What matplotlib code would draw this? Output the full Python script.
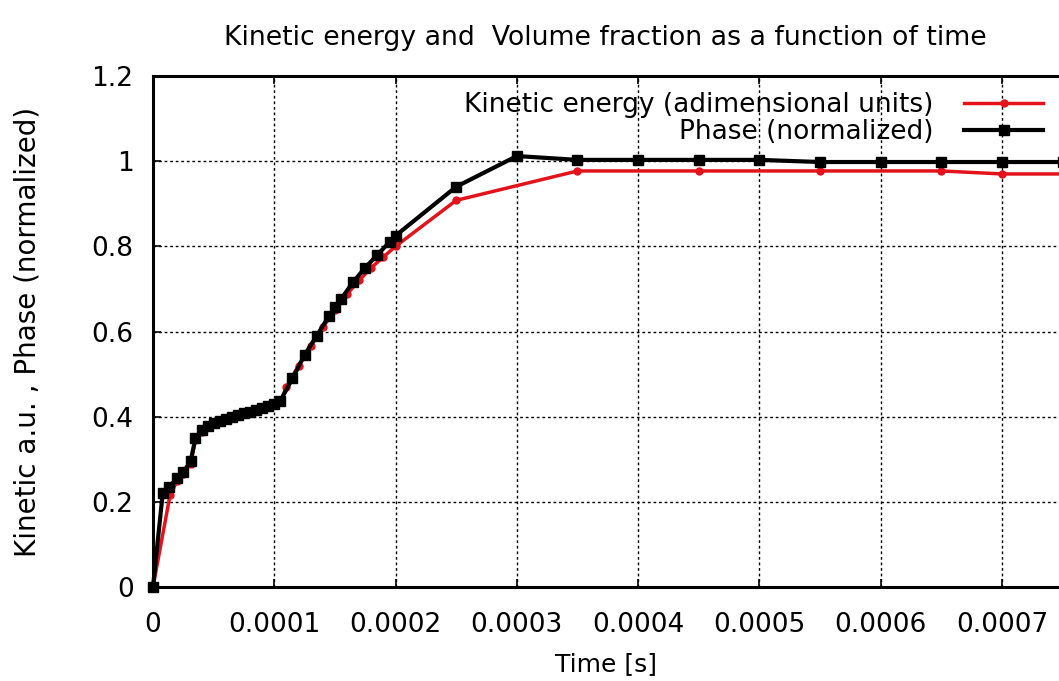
import matplotlib
matplotlib.use('Agg')
import matplotlib.pyplot as plt

# Phase (normalized) - black squares
t_phase = [0, 0.000008, 0.000013, 0.00002, 0.000025, 0.000031, 0.000035,
           0.00004, 0.000045, 0.00005, 0.000055, 0.00006, 0.000065, 0.00007,
           0.000075, 0.00008, 0.000085, 0.00009, 0.000095, 0.0001, 0.000105,
           0.000115, 0.000125, 0.000135, 0.000145, 0.00015, 0.000155, 0.000165,
           0.000175, 0.000185, 0.000195, 0.0002, 0.00025, 0.0003, 0.00035,
           0.0004, 0.00045, 0.0005, 0.00055, 0.0006, 0.00065, 0.0007, 0.00075, 0.0008]
phase = [0, 0.22, 0.235, 0.255, 0.27, 0.295, 0.35,
         0.368, 0.377, 0.384, 0.39, 0.395, 0.40, 0.404,
         0.408, 0.412, 0.416, 0.42, 0.425, 0.43, 0.437,
         0.49, 0.545, 0.59, 0.636, 0.657, 0.676, 0.716,
         0.75, 0.78, 0.81, 0.825, 0.94, 1.012, 1.003,
         1.003, 1.003, 1.003, 0.998, 0.998, 0.998, 0.998, 0.998, 0.998]

# Kinetic energy (adimensional units) - red dots
t_kin = [0, 0.000014, 0.00002, 0.000025, 0.000031, 0.000035, 0.00004,
         0.00005, 0.00006, 0.00007, 0.00008, 0.00009, 0.0001, 0.000105,
         0.00011, 0.00012, 0.00013, 0.00014, 0.00015, 0.00016, 0.00017,
         0.00018, 0.00019, 0.0002, 0.00025, 0.00035, 0.00045, 0.00055,
         0.00065, 0.0007, 0.0008]
kin = [0, 0.215, 0.25, 0.265, 0.29, 0.345, 0.365,
       0.382, 0.393, 0.402, 0.41, 0.418, 0.428, 0.435,
       0.47, 0.52, 0.565, 0.61, 0.65, 0.688, 0.72,
       0.75, 0.775, 0.80, 0.908, 0.977, 0.977, 0.977,
       0.977, 0.970, 0.970]

yticks = [0, 0.2, 0.4, 0.6, 0.8, 1.0, 1.2]
ytick_labels = ['0', '0.2', '0.4', '0.6', '0.8', '1', '1.2']
xticks = [0, 0.0001, 0.0002, 0.0003, 0.0004, 0.0005, 0.0006, 0.0007]
xtick_labels = ['0', '0.0001', '0.0002', '0.0003', '0.0004', '0.0005', '0.0006', '0.0007']

plt.rcParams['font.family'] = ['DejaVu Sans']

fig = plt.figure(figsize=(10.59, 6.81), dpi=100)
ax = fig.add_axes([153/1059, 94/681, 906/1059, 511/681])

ax.plot(t_kin, kin, c='#e3121b', lw=2.5, marker='o', ms=5,
        label='Kinetic energy (adimensional units)', clip_on=True)
ax.plot(t_phase, phase, c='black', lw=3, marker='s', ms=7.5,
        label='Phase (normalized)', clip_on=False)

ax.set_xlim(0, 0.000747)
ax.set_ylim(0, 1.2)
ax.set_xticks(xticks)
ax.set_xticklabels(xtick_labels)
ax.set_yticks(yticks)
ax.set_yticklabels(ytick_labels)
ax.tick_params(direction='in', length=6, width=1.2, labelsize=19, top=True, pad=14)
ax.tick_params(axis='x', pad=18)
ax.grid(True, color='black', ls=(0, (2, 2)), lw=1)

for s in ['left', 'bottom', 'top']:
    ax.spines[s].set_linewidth(2.2)
ax.spines['right'].set_visible(False)

ax.set_xlabel('Time [s]', fontsize=18, labelpad=10)
ax.set_ylabel('Kinetic a.u. , Phase (normalized)', fontsize=20, labelpad=36)
fig.text(605/1059, 1 - 38/681, 'Kinetic energy and  Volume fraction as a function of time',
         ha='center', va='center', fontsize=19.3)

leg = ax.legend(loc='upper right', frameon=False, markerfirst=False, fontsize=19,
                handlelength=3.0, handletextpad=1.15, labelspacing=0.05,
                borderaxespad=0.2)

fig.savefig('out.png', dpi=100)
